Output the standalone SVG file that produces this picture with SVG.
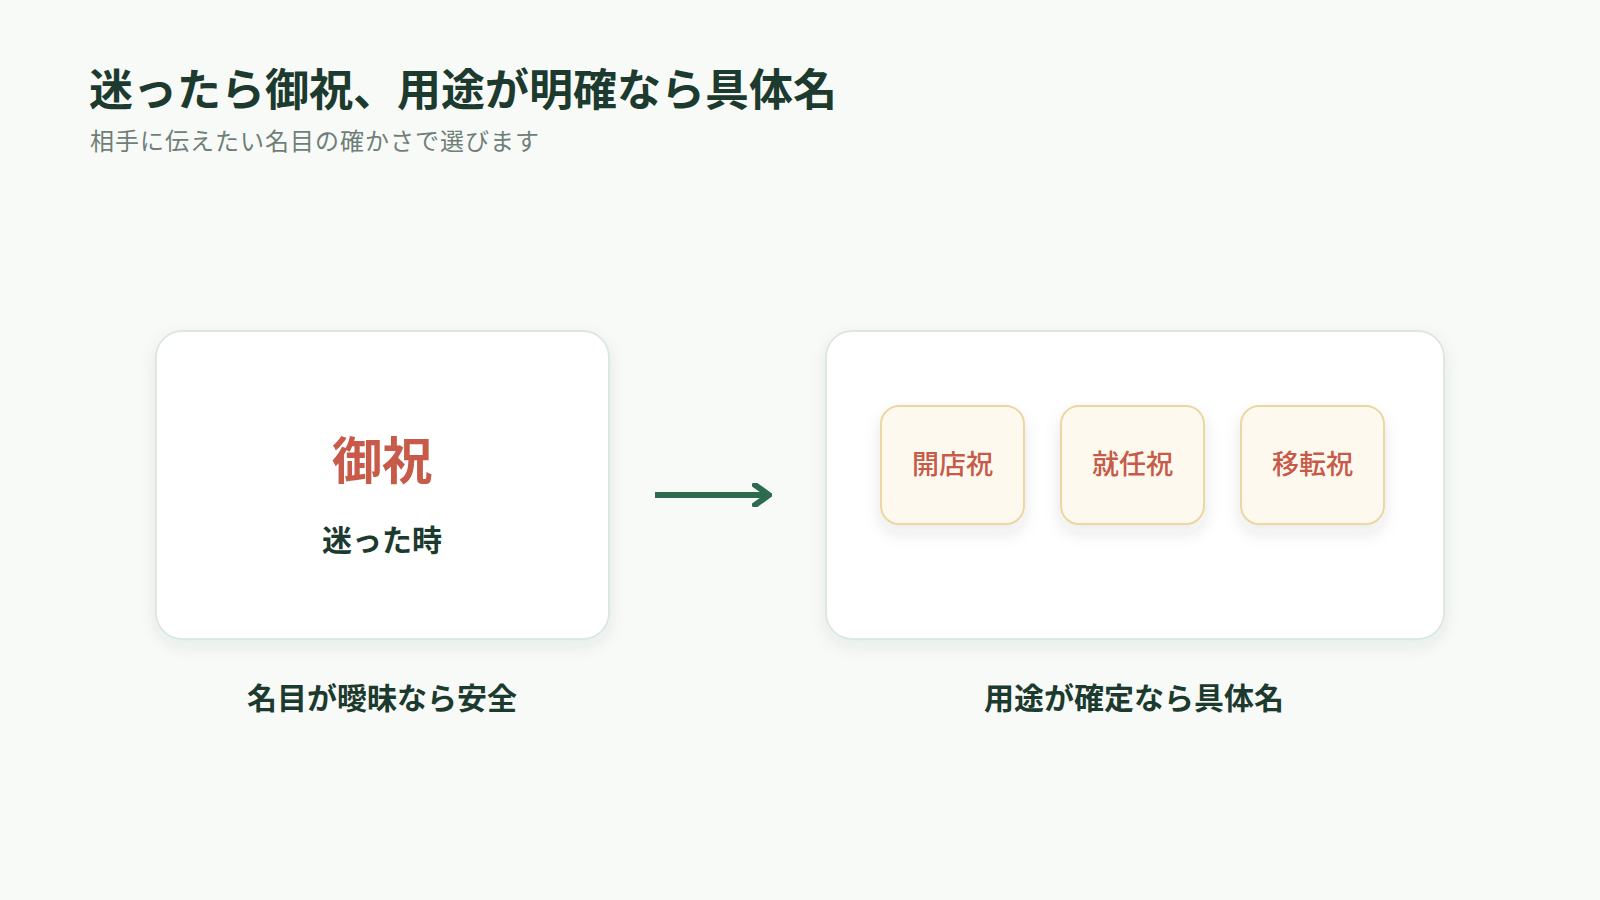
<svg xmlns="http://www.w3.org/2000/svg" width="1600" height="900" viewBox="0 0 1600 900">
  <defs>
    <filter id="cardShadow" x="-10%" y="-10%" width="120%" height="130%">
      <feDropShadow dx="0" dy="6" stdDeviation="8" flood-color="#2a4a3c" flood-opacity="0.08"/>
    </filter>
    <filter id="chipShadow" x="-20%" y="-20%" width="140%" height="150%">
      <feDropShadow dx="0" dy="8" stdDeviation="8" flood-color="#3a3a2a" flood-opacity="0.10"/>
    </filter>
    <marker id="arrowHead" viewBox="0 0 20 24" markerWidth="20" markerHeight="24" refX="17" refY="12" orient="auto" markerUnits="userSpaceOnUse">
      <polyline points="3,2 17,12 3,22" fill="none" stroke="#2d6b51" stroke-width="6" stroke-linecap="square" stroke-linejoin="miter"/>
    </marker>
    <style>
      .jp { font-family: "Noto Sans CJK JP", "Noto Sans", sans-serif; }
      .title { font-size: 44px; font-weight: 700; fill: #1d3a2f; }
      .subtitle { font-size: 24px; font-weight: 400; fill: #6f7f78; letter-spacing: 1px; }
      .card { fill: #ffffff; stroke: #dbe8e2; stroke-width: 2; }
      .chip { fill: #fdf9ef; stroke: #ecd6a2; stroke-width: 2; }
      .chipText { font-size: 27px; font-weight: 500; fill: #c75a48; text-anchor: middle; }
      .big { font-size: 50px; font-weight: 700; fill: #c75a48; text-anchor: middle; }
      .sub { font-size: 30px; font-weight: 700; fill: #1d3a2f; text-anchor: middle; }
      .label { font-size: 30px; font-weight: 700; fill: #1d3a2f; text-anchor: middle; }
      .conn { stroke: #2d6b51; stroke-width: 6; fill: none; }
    </style>
  </defs>

  <rect x="0" y="0" width="1600" height="900" fill="#f8faf8"/>

  <g id="header">
    <text class="jp title" x="89" y="106">迷ったら御祝、用途が明確なら具体名</text>
    <text class="jp subtitle" x="90" y="150">相手に伝えたい名目の確かさで選びます</text>
  </g>

  <g id="node-left">
    <rect class="card" x="156" y="331" width="453" height="308" rx="26" filter="url(#cardShadow)"/>
    <text class="jp big" x="382" y="479">御祝</text>
    <text class="jp sub" x="382" y="551">迷った時</text>
  </g>

  <g id="node-right">
    <rect class="card" x="826" y="331" width="618" height="308" rx="26" filter="url(#cardShadow)"/>
  </g>

  <g id="chip-1">
    <rect class="chip" x="881" y="406" width="143" height="118" rx="18" filter="url(#chipShadow)"/>
    <text class="jp chipText" x="952.5" y="474">開店祝</text>
  </g>
  <g id="chip-2">
    <rect class="chip" x="1061" y="406" width="143" height="118" rx="18" filter="url(#chipShadow)"/>
    <text class="jp chipText" x="1132.5" y="474">就任祝</text>
  </g>
  <g id="chip-3">
    <rect class="chip" x="1241" y="406" width="143" height="118" rx="18" filter="url(#chipShadow)"/>
    <text class="jp chipText" x="1312.5" y="474">移転祝</text>
  </g>

  <g id="label-left">
    <text class="jp label" x="382" y="709">名目が曖昧なら安全</text>
  </g>
  <g id="label-right">
    <text class="jp label" x="1134" y="709">用途が確定なら具体名</text>
  </g>

  <g id="connectors">
    <line class="conn" x1="655" y1="495" x2="769" y2="495" marker-end="url(#arrowHead)"/>
  </g>
</svg>
